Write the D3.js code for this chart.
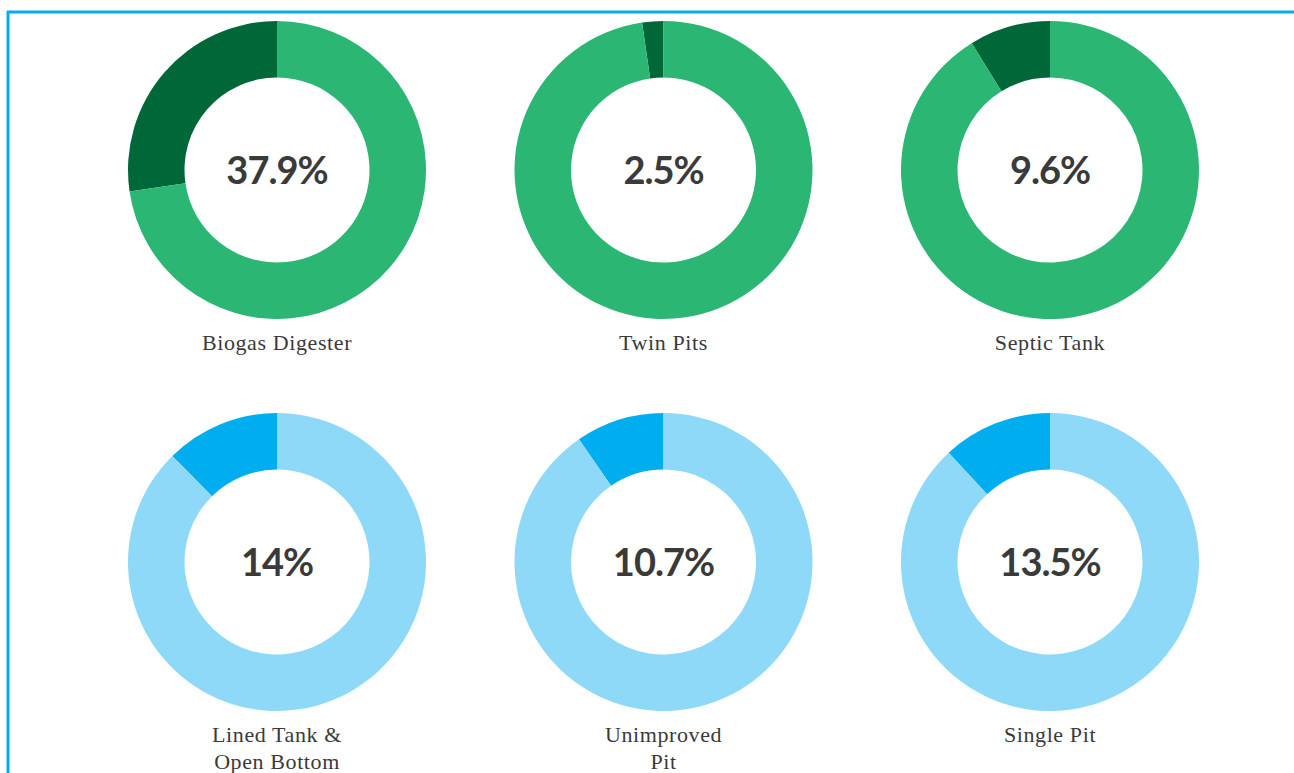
<!DOCTYPE html>
<html>
<head>
<meta charset="utf-8" />
<title>Sanitation donuts</title>
<style>
  html, body { margin: 0; padding: 0; background: #fff; overflow: hidden; }
</style>
</head>
<body>
<div id="chart"></div>
<script src="https://d3js.org/d3.v7.min.js"></script>
<script>
(function(d3) {
'use strict';

// chart data
var categories = ['Biogas Digester', 'Twin Pits', 'Septic Tank',
                  'Lined Tank &\nOpen Bottom', 'Unimproved\nPit', 'Single Pit'];
var centerLabels = ['37.9%', '2.5%', '9.6%', '14%', '10.7%', '13.5%'];
var sliceShares = [27.3, 2.3, 8.8, 12.4, 9.6, 11.9];
var groups = ['green', 'green', 'green', 'blue', 'blue', 'blue'];

var width = 1294;
var height = 773;
var outerR = 149;
var innerR = 92.5;

var palette = {
  green: { dark: '#006838', light: '#2bb673' },
  blue:  { dark: '#00aeef', light: '#8ed8f8' }
};

var x = d3.scalePoint().domain([0, 1, 2]).range([277, 1050]);
var y = d3.scalePoint().domain([0, 1]).range([170, 562]);

var svg = d3.select('#chart')
  .append('svg')
  .attr('width', width)
  .attr('height', height);

// frame lines
svg.append('line')
  .attr('x1', 7).attr('x2', width)
  .attr('y1', 12).attr('y2', 12)
  .attr('stroke', '#00aeef').attr('stroke-width', 3);
svg.append('line')
  .attr('x1', 8).attr('x2', 8)
  .attr('y1', 11).attr('y2', height)
  .attr('stroke', '#00aeef').attr('stroke-width', 3);

var arc = d3.arc().innerRadius(innerR).outerRadius(outerR);
var pie = d3.pie()
  .value(function(d) { return d.v; })
  .sort(null)
  .startAngle(0)
  .endAngle(-2 * Math.PI);

var cells = svg.selectAll('g.donut')
  .data(categories.map(function(c, i) {
    return { name: c, label: centerLabels[i], share: sliceShares[i], group: groups[i], i: i };
  }))
  .enter()
  .append('g')
  .attr('class', 'donut')
  .attr('transform', function(d) {
    return 'translate(' + x(d.i % 3) + ',' + y(Math.floor(d.i / 3)) + ')';
  });

cells.selectAll('path')
  .data(function(d) {
    return pie([
      { v: d.share, c: palette[d.group].dark },
      { v: 100 - d.share, c: palette[d.group].light }
    ]);
  })
  .enter()
  .append('path')
  .attr('d', arc)
  .attr('fill', function(d) { return d.data.c; });

cells.append('text')
  .attr('text-anchor', 'middle')
  .attr('y', 14)
  .style('font-family', 'Lato, sans-serif')
  .style('font-weight', 700)
  .style('font-size', '38px')
  .style('letter-spacing', '-1px')
  .attr('fill', '#3a3a3a')
  .text(function(d) { return d.label; });

cells.append('text')
  .attr('text-anchor', 'middle')
  .style('font-family', '"Liberation Serif", serif')
  .style('font-size', '22px')
  .style('letter-spacing', '0.6px')
  .attr('fill', '#3a3a3a')
  .selectAll('tspan')
  .data(function(d) { return d.name.split('\n'); })
  .enter()
  .append('tspan')
  .attr('x', 0)
  .attr('y', function(d, j) { return 180 + j * 27; })
  .text(function(d) { return d; });

})(window.d3);
</script>
</body>
</html>
